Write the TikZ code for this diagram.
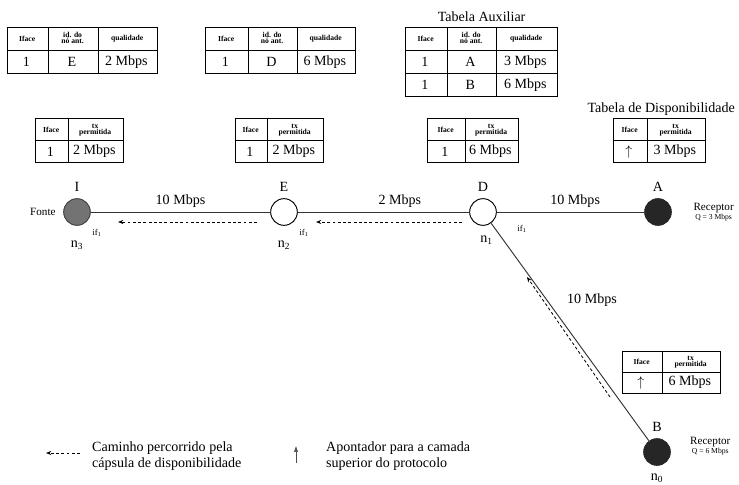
\documentclass[tikz,border=0pt]{standalone}
\usepackage{fontspec}
\setmainfont{Liberation Serif}
\usetikzlibrary{matrix,positioning,arrows.meta}
\newcommand{\hdr}[2]{\begin{tabular}{@{}c@{}}#1\\[-1.5pt]#2\end{tabular}}

\begin{document}
\begin{tikzpicture}[
        x=0.03cm, y=-0.03cm,
        nd/.style={
                circle,
                draw,
                line width=0.8pt,
                minimum size=0.8cm,
                inner sep=0pt
            },
        src/.style={nd, fill=black!55, draw=black!75},
        rcv/.style={nd, fill=black!85, draw=black!85},
        rtr/.style={nd, fill=white},
        link/.style={draw=black!80, line width=0.8pt},
        trip/.style={dash pattern=on 2.5pt off 2pt, line width=0.7pt,
                -{Stealth[length=4.5pt,width=3.5pt]}},
        lbl/.style={font=\fontsize{12}{14}\selectfont},
        rate/.style={font=\fontsize{12}{14}\selectfont},
        note/.style={font=\fontsize{9.5}{10}\selectfont},
        tiny/.style={font=\fontsize{7.5}{8}\selectfont},
        tab/.style={
                matrix of nodes,
                anchor=north west,
                inner sep=0pt,
                column sep=-0.6pt,
                row sep=-0.6pt,
                nodes={draw, line width=0.6pt, inner sep=0pt, align=center,
                        anchor=center, font=\fontsize{12}{13}\selectfont},
                row 1/.style={nodes={font=\fontsize{6.5}{7}\selectfont\bfseries}}
            },
        leg/.style={align=left, anchor=west, font=\fontsize{12}{14}\selectfont}
    ]
    \useasboundingbox (0,0) rectangle (739,485);

    % tables with the quality per previous node
    \matrix[tab, at={(7,27)},
        nodes={minimum height=0.69cm},
        column 1/.style={nodes={minimum width=1.23cm}},
        column 2/.style={nodes={minimum width=1.5cm}},
        column 3/.style={nodes={minimum width=1.77cm}}] (tabE) {
        Iface & \hdr{id. do}{nó ant.} & qualidade \\
        1 & E & 2 Mbps \\
    };
    \matrix[tab, at={(205,27)},
        nodes={minimum height=0.69cm},
        column 1/.style={nodes={minimum width=1.29cm}},
        column 2/.style={nodes={minimum width=1.47cm}},
        column 3/.style={nodes={minimum width=1.74cm}}] (tabD) {
        Iface & \hdr{id. do}{nó ant.} & qualidade \\
        1 & D & 6 Mbps \\
    };
    \matrix[tab, at={(405,27)},
        nodes={minimum height=0.69cm},
        column 1/.style={nodes={minimum width=1.26cm}},
        column 2/.style={nodes={minimum width=1.47cm}},
        column 3/.style={nodes={minimum width=1.83cm}}] (tabAux) {
        Iface & \hdr{id. do}{nó ant.} & qualidade \\
        1 & A & 3 Mbps \\
        1 & B & 6 Mbps \\
    };
    \node[lbl, above=1pt of tabAux] (auxTitle) {Tabela Auxiliar};

    % availability tables
    \matrix[tab, at={(35,118)},
        nodes={minimum height=0.66cm},
        column 1/.style={nodes={minimum width=0.99cm}},
        column 2/.style={nodes={minimum width=1.65cm}}] (tabI) {
        Iface & \hdr{tx}{permitida} \\
        1 & 2 Mbps \\
    };
    \matrix[tab, at={(235,118)},
        nodes={minimum height=0.66cm},
        column 1/.style={nodes={minimum width=0.96cm}},
        column 2/.style={nodes={minimum width=1.68cm}}] (tabE2) {
        Iface & \hdr{tx}{permitida} \\
        1 & 2 Mbps \\
    };
    \matrix[tab, at={(427,118)},
        nodes={minimum height=0.66cm},
        column 1/.style={nodes={minimum width=1.14cm}},
        column 2/.style={nodes={minimum width=1.59cm}}] (tabD2) {
        Iface & \hdr{tx}{permitida} \\
        1 & 6 Mbps \\
    };
    \matrix[tab, at={(613,118)},
        nodes={minimum height=0.66cm},
        column 1/.style={nodes={minimum width=1.02cm}},
        column 2/.style={nodes={minimum width=1.74cm}}] (tabA) {
        Iface & \hdr{tx}{permitida} \\
        $\uparrow$ & 3 Mbps \\
    };
    \node[lbl, anchor=south east] (dispTitle) at (739,120) {Tabela de Disponibilidade};
    \matrix[tab, at={(622,351)},
        nodes={minimum height=0.62cm},
        column 1/.style={nodes={minimum width=1.2cm}},
        column 2/.style={nodes={minimum width=1.74cm}}] (tabB) {
        Iface & \hdr{tx}{permitida} \\
        $\uparrow$ & 6 Mbps \\
    };

    % network nodes
    \node[src] (I) at (77,212) {};
    \node[rtr] (E) at (284,212) {};
    \node[rtr] (D) at (483,212) {};
    \node[rcv] (A) at (658,212) {};
    \node[rcv] (B) at (657,452) {};

    \node[lbl, above=2pt of I] (lI) {I};
    \node[lbl, above=2pt of E] (lE) {E};
    \node[lbl, above=2pt of D] (lD) {D};
    \node[lbl, above=2pt of A] (lA) {A};
    \node[lbl, above=2pt of B] (lB) {B};

    \node[lbl, below=9pt of I] (n3) {n\textsubscript{3}};
    \node[lbl, below=9pt of E] (n2) {n\textsubscript{2}};
    \node[lbl, below=5pt of D, xshift=3pt] (n1) {n\textsubscript{1}};
    \node[lbl, below=3pt of B] (n0) {n\textsubscript{0}};

    \node[tiny] (ifI) at (97,233) {if\textsubscript{1}};
    \node[tiny] (ifE) at (304,233) {if\textsubscript{1}};
    \node[tiny] (ifD) at (522,229) {if\textsubscript{1}};

    \node[note, left=3pt of I] (fonte) {Fonte};
    \node[note, align=center, right=15pt of A] (recA) {Receptor\\[-2pt]{\fontsize{6.5}{7}\selectfont Q = 3 Mbps}};
    \node[note, align=center, right=13pt of B, yshift=5pt] (recB) {Receptor\\[-2pt]{\fontsize{6.5}{7}\selectfont Q = 6 Mbps}};

    % links
    \draw[link] (I) -- node[rate, above] {10 Mbps} (E);
    \draw[link] (E) -- node[rate, above, xshift=14pt] {2 Mbps} (D);
    \draw[link] (D) -- node[rate, above, xshift=4pt] {10 Mbps} (A);
    \draw[link] (D) -- (B);
    \node[rate] (rDB) at (592,300) {10 Mbps};

    % path of the availability capsule
    \coordinate (pE) at (257,222);
    \coordinate (pI) at (118,222);
    \coordinate (pD) at (462,222);
    \coordinate (pE2) at (316,222);
    \coordinate (pB) at (610,397);
    \coordinate (pD2) at (527,277);
    \draw[trip] (pE) -- (pI);
    \draw[trip] (pD) -- (pE2);
    \draw[trip] (pB) -- (pD2);

    % legend
    \coordinate (legA) at (80,453);
    \coordinate (legB) at (46,453);
    \draw[trip] (legA) -- (legB);
    \node[leg] (legPath) at (88,456) {Caminho percorrido pela\\cápsula de disponibilidade};
    \coordinate (upA) at (296,463);
    \coordinate (upB) at (296,446);
    \draw[line width=0.4pt, black!70, -{Latex[length=5pt,width=3.5pt]}] (upA) -- (upB);
    \node[leg] (legPtr) at (322,456) {Apontador para a camada\\ superior do protocolo};
\end{tikzpicture}
\end{document}
